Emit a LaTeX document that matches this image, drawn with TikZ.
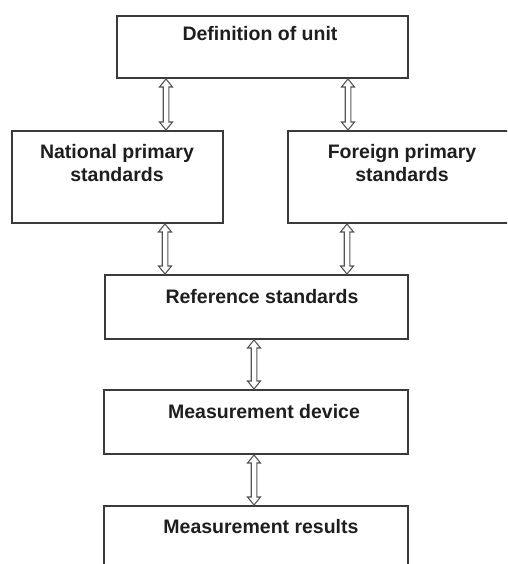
\documentclass[tikz,border=0pt]{standalone}
\usepackage{fontspec}
\setmainfont{Liberation Sans}
\usetikzlibrary{calc}
\definecolor{boxline}{HTML}{3A3A3A}
\definecolor{arrline}{HTML}{555555}
\definecolor{txt}{HTML}{1E1E1E}
\tikzset{
  box/.style={draw=boxline, line width=2pt},
  lbl/.style={anchor=base, inner sep=0pt, align=center, text=txt,
    font=\bfseries\fontsize{19.5}{22}\selectfont},
  dblarrowstyle/.style={draw=arrline, line width=1.1pt, fill=white, line join=miter},
}
% hollow double-headed arrow from (#1) down to (#2)
\newcommand\mydblarrow[2]{%
  \draw[dblarrowstyle] (#1) -- ($(#1)+(6.5,8)$) -- ($(#1)+(2.8,8)$)
    -- ($(#2)+(2.8,-8)$) -- ($(#2)+(6.5,-8)$) -- (#2)
    -- ($(#2)+(-6.5,-8)$) -- ($(#2)+(-2.8,-8)$)
    -- ($(#1)+(-2.8,8)$) -- ($(#1)+(-6.5,8)$) -- cycle;}
\begin{document}
\begin{tikzpicture}[x=1pt,y=-1pt]
\useasboundingbox (0,0) rectangle (507,564);
\clip (0,0) rectangle (507,564);
\fill[white] (0,0) rectangle (507,564);
% boxes
\draw[box] (117,16) rectangle (408,78);
\draw[box] (12,131) rectangle (223,223);
\draw[box] (288,131) rectangle (522,223);
\draw[box] (105,275) rectangle (408,339);
\draw[box] (104,390) rectangle (408,454);
\draw[box] (104,506) rectangle (408,590);
% labels
\node[lbl] (tdef) at (260,41) {Definition of unit};
\node[lbl] (tnat) at (117,181) {National primary\\standards};
\node[lbl] (tfor) at (402,181) {Foreign primary\\standards};
\node[lbl] (tref) at (262,303) {Reference standards};
\node[lbl] (tdev) at (264,418) {Measurement device};
\node[lbl] (tres) at (261,533) {Measurement results};
% connector end points
\coordinate (d1) at (166,79);  \coordinate (n1) at (166,130);
\coordinate (d2) at (348,79);  \coordinate (f1) at (348,130);
\coordinate (n2) at (165,224); \coordinate (r1) at (165,274);
\coordinate (f2) at (347,224); \coordinate (r2) at (347,274);
\coordinate (r3) at (254,340); \coordinate (m1) at (254,389);
\coordinate (m2) at (254,455); \coordinate (s1) at (254,505);
\mydblarrow{d1}{n1}
\mydblarrow{d2}{f1}
\mydblarrow{n2}{r1}
\mydblarrow{f2}{r2}
\mydblarrow{r3}{m1}
\mydblarrow{m2}{s1}
\end{tikzpicture}
\end{document}
